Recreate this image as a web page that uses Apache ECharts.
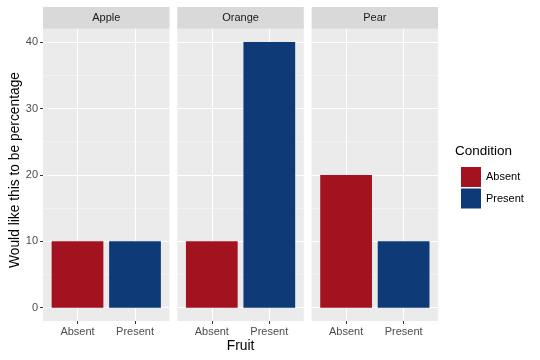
<!DOCTYPE html>
<html><head><meta charset="utf-8">
<script src="https://cdn.jsdelivr.net/npm/echarts@6/dist/echarts.min.js"></script>
<style>html,body{margin:0;padding:0;background:#fff}#c{width:540px;height:360px}</style>
</head><body><div id="c"></div>
<script>
const fruits = ['Apple', 'Orange', 'Pear'];
const conditions = ['Absent', 'Present'];
const absentValues = [10, 10, 20];
const presentValues = [10, 40, 10];
const yTicks = [0, 10, 20, 30, 40];
const yMinor = [5, 15, 25, 35];
const xTicks = [1, 2];
const colors = { Absent: '#A3131F', Present: '#0E3A78' };

const FONT = '"Liberation Sans", Arial, sans-serif';
const panelLeft = [43, 177.3, 311.6], panelW = 126.5, panelTop = 28.8, panelH = 292.2;
const xMin = 0.4, xMax = 2.6, yMin = -2, yMax = 42;
const barW = panelW / (xMax - xMin) * 0.9;

const grid = [], xAxis = [], yAxis = [], series = [], graphic = [];
fruits.forEach((f, i) => {
  grid.push({ left: panelLeft[i], top: panelTop, width: panelW, height: panelH, show: true,
    backgroundColor: '#EBEBEB', borderWidth: 0, containLabel: false });
  xAxis.push({ type: 'value', gridIndex: i, min: xMin, max: xMax,
    axisLine: { show: false, onZero: false },
    axisTick: { show: true, customValues: xTicks, length: 3, lineStyle: { color: '#333333', width: 1 } },
    axisLabel: { show: true, customValues: xTicks, margin: 5, color: '#4D4D4D', fontSize: 11, fontFamily: FONT,
      formatter: v => conditions[Math.round(v) - 1] },
    splitLine: { show: true, lineStyle: { color: '#FFFFFF', width: 1.1 } } });
  yAxis.push({ type: 'value', gridIndex: i, min: yMin, max: yMax,
    axisLine: { show: false, onZero: false },
    axisTick: { show: i === 0, customValues: yTicks, length: 3, lineStyle: { color: '#333333', width: 1 } },
    axisLabel: { show: i === 0, customValues: yTicks, margin: 5, color: '#4D4D4D', fontSize: 11, fontFamily: FONT },
    splitLine: { show: true, lineStyle: { color: '#FFFFFF', width: 1.1 } } });
  yAxis.push({ type: 'value', gridIndex: i, min: yMin, max: yMax, position: 'left',
    axisLine: { show: false, onZero: false },
    axisTick: { show: false, customValues: yMinor },
    axisLabel: { show: false, customValues: yMinor },
    splitLine: { show: true, lineStyle: { color: '#F7F7F7', width: 0.6 } } });
  series.push({ type: 'bar', name: 'Absent', xAxisIndex: i, yAxisIndex: 2 * i, barWidth: barW, barGap: '-100%',
    itemStyle: { color: colors.Absent }, data: [[1, absentValues[i]]], silent: true });
  series.push({ type: 'bar', name: 'Present', xAxisIndex: i, yAxisIndex: 2 * i, barWidth: barW, barGap: '-100%',
    itemStyle: { color: colors.Present }, data: [[2, presentValues[i]]], silent: true });
  graphic.push({ type: 'rect', shape: { x: panelLeft[i], y: 7, width: panelW, height: panelTop - 7 },
    style: { fill: '#D9D9D9' }, silent: true });
  graphic.push({ type: 'text', x: panelLeft[i] + panelW / 2, y: 18, silent: true,
    style: { text: f, align: 'center', verticalAlign: 'middle', fill: '#1A1A1A', font: '11px ' + FONT } });
});
graphic.push({ type: 'text', x: 240.5, y: 346, silent: true,
  style: { text: 'Fruit', align: 'center', verticalAlign: 'middle', fill: '#000', font: '13.8px ' + FONT } });
graphic.push({ type: 'text', x: 15, y: 170, rotation: Math.PI / 2, silent: true,
  style: { text: 'Would like this to be percentage', align: 'center', verticalAlign: 'middle', fill: '#000', font: '13.8px ' + FONT } });
graphic.push({ type: 'text', x: 455, y: 151, silent: true,
  style: { text: 'Condition', align: 'left', verticalAlign: 'middle', fill: '#000', font: '13.5px ' + FONT } });

const chart = echarts.init(document.getElementById('c'), null, { renderer: 'canvas' });
chart.setOption({
  animation: false,
  backgroundColor: '#FFFFFF',
  grid, xAxis, yAxis, series, graphic,
  legend: { data: conditions, orient: 'vertical', left: 456, top: 162, itemWidth: 20, itemHeight: 20, itemGap: 1.5,
    icon: 'rect', selectedMode: false, textStyle: { color: '#000', fontSize: 11, fontFamily: FONT } }
});
</script></body></html>
